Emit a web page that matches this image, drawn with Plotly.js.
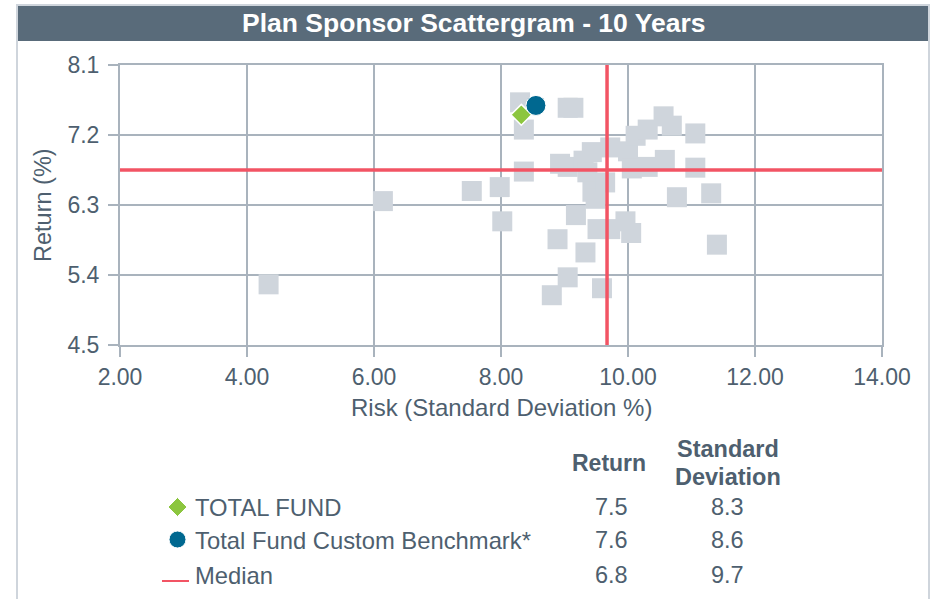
<!DOCTYPE html>
<html>
<head>
<meta charset="utf-8">
<script src="https://cdn.plot.ly/plotly-3.0.1.min.js"></script>
<style>
html,body{margin:0;padding:0;background:#fff;}
#chart{width:934px;height:599px;}
</style>
</head>
<body>
<div id="chart"></div>
<script>
// ---- data ----
const peerRisk = [4.34, 6.14, 7.54, 7.98, 8.02, 8.36, 8.36, 8.30, 9.05, 9.14,
  8.93, 9.05, 9.30, 9.43, 9.72, 9.36, 9.44, 9.49, 9.64, 10.00,
  10.06, 10.12, 10.31, 10.31, 10.58, 10.56, 10.69, 11.06, 11.06, 10.77,
  11.31, 9.18, 9.52, 9.72, 9.96, 10.05, 8.89, 9.33, 9.05, 8.80, 9.59, 11.40];
const peerReturn = [5.28, 6.35, 6.48, 6.53, 6.09, 6.73, 7.27, 7.62, 7.55, 7.55,
  6.83, 6.79, 6.87, 6.98, 7.04, 6.72, 6.47, 6.38, 6.59, 6.99,
  6.77, 7.19, 7.27, 6.79, 6.88, 7.44, 7.32, 7.22, 6.78, 6.40,
  6.45, 6.17, 5.99, 5.99, 6.09, 5.94, 5.86, 5.69, 5.37, 5.14, 5.23, 5.79];
const fundRisk = [8.32];
const fundReturn = [7.46];
const benchRisk = [8.55];
const benchReturn = [7.58];
const medianRisk = 9.67;
const medianReturn = 6.75;

const xTickVals = [2, 4, 6, 8, 10, 12, 14];
const yTickVals = [4.5, 5.4, 6.3, 7.2, 8.1];

const legendNames = ['TOTAL FUND', 'Total Fund Custom Benchmark*', 'Median'];
const legendReturn = ['7.5', '7.6', '6.8'];
const legendStd = ['8.3', '8.6', '9.7'];

const chartTitle = 'Plan Sponsor Scattergram - 10 Years';
const xTitle = 'Risk (Standard Deviation %)';
const yTitle = 'Return (%)';

// ---- layout helpers (pixel -> paper) ----
const W = 934, H = 599, L = 120, R = 52, T = 65, B = 254;
const PW = W - L - R, PH = H - T - B;
const px = x => (x - L) / PW;
const py = y => (H - B - y) / PH;

const FONT = 'Liberation Sans, Arial, Helvetica, sans-serif';
const TXT = '#4e5f6f';
const GRID = '#a9b3bd';
const RED = '#f25464';
const GREEN = '#8cc63f';
const TEAL = '#006890';
const SQUARE = '#cfd5dc';

const traces = [
  {x: peerRisk, y: peerReturn, type: 'scatter', mode: 'markers',
   marker: {symbol: 'square', size: 20, color: SQUARE, line: {width: 0}},
   hoverinfo: 'skip', showlegend: false},
  {x: fundRisk, y: fundReturn, type: 'scatter', mode: 'markers',
   marker: {symbol: 'diamond', size: 16, color: GREEN, line: {width: 1.5, color: '#ffffff'}},
   showlegend: false},
  {x: benchRisk, y: benchReturn, type: 'scatter', mode: 'markers',
   marker: {symbol: 'circle', size: 20, color: TEAL, line: {width: 1, color: '#ffffff'}},
   showlegend: false}
];

const shapes = [
  // outer frame
  {type: 'rect', xref: 'paper', yref: 'paper', x0: px(17), x1: px(929), y0: py(5), y1: py(640),
   line: {color: '#cfd5dc', width: 2}, fillcolor: 'rgba(0,0,0,0)', layer: 'below'},
  // title bar
  {type: 'rect', xref: 'paper', yref: 'paper', x0: px(18), x1: px(928), y0: py(6), y1: py(41),
   line: {width: 0}, fillcolor: '#596b7a', layer: 'below'},
  // median lines
  {type: 'line', xref: 'paper', yref: 'y', x0: 0, x1: 1, y0: medianReturn, y1: medianReturn,
   line: {color: RED, width: 3.5}},
  {type: 'line', xref: 'x', yref: 'paper', x0: medianRisk, x1: medianRisk, y0: 0, y1: 1,
   line: {color: RED, width: 3.5}},
  // legend symbols
  {type: 'path', xref: 'paper', yref: 'paper',
   path: `M ${px(177.5)} ${py(497.5)} L ${px(187)} ${py(507)} L ${px(177.5)} ${py(516.5)} L ${px(168)} ${py(507)} Z`,
   fillcolor: GREEN, line: {color: '#ffffff', width: 1}},
  {type: 'circle', xref: 'paper', yref: 'paper', x0: px(169), x1: px(186), y0: py(531), y1: py(548),
   fillcolor: TEAL, line: {color: '#ffffff', width: 1}},
  {type: 'line', xref: 'paper', yref: 'paper', x0: px(162), x1: px(189), y0: py(581), y1: py(581),
   line: {color: RED, width: 2}}
];

const annotations = [
  {text: '<b>' + chartTitle + '</b>', xref: 'paper', yref: 'paper', x: px(473), y: py(23),
   xanchor: 'center', yanchor: 'middle', showarrow: false, font: {family: FONT, size: 26.5, color: '#ffffff'}},
  {text: yTitle, xref: 'paper', yref: 'paper', x: px(43), y: py(205), textangle: -90,
   xanchor: 'center', yanchor: 'middle', showarrow: false, font: {family: FONT, size: 23.5, color: TXT}},
  {text: xTitle, xref: 'paper', yref: 'paper', x: px(501), y: py(407),
   xanchor: 'center', yanchor: 'middle', showarrow: false, font: {family: FONT, size: 24, color: TXT}},
  {text: '<b>Return</b>', xref: 'paper', yref: 'paper', x: px(609), y: py(463),
   xanchor: 'center', yanchor: 'middle', showarrow: false, font: {family: FONT, size: 23, color: TXT}},
  {text: '<b>Standard</b>', xref: 'paper', yref: 'paper', x: px(728), y: py(449),
   xanchor: 'center', yanchor: 'middle', showarrow: false, font: {family: FONT, size: 23.5, color: TXT}},
  {text: '<b>Deviation</b>', xref: 'paper', yref: 'paper', x: px(728), y: py(477),
   xanchor: 'center', yanchor: 'middle', showarrow: false, font: {family: FONT, size: 23.5, color: TXT}}
];
const rowY = [507, 540, 575];
legendNames.forEach((n, i) => {
  annotations.push({text: n, xref: 'paper', yref: 'paper', x: px(193), y: py(rowY[i]),
    xanchor: 'left', yanchor: 'middle', showarrow: false, font: {family: FONT, size: 23.8, color: TXT}});
  annotations.push({text: legendReturn[i], xref: 'paper', yref: 'paper', x: px(611), y: py(rowY[i]),
    xanchor: 'center', yanchor: 'middle', showarrow: false, font: {family: FONT, size: 23.5, color: TXT}});
  annotations.push({text: legendStd[i], xref: 'paper', yref: 'paper', x: px(727), y: py(rowY[i]),
    xanchor: 'center', yanchor: 'middle', showarrow: false, font: {family: FONT, size: 23.5, color: TXT}});
});

const layout = {
  width: W, height: H,
  margin: {l: L, r: R, t: T, b: B, pad: 0},
  paper_bgcolor: '#ffffff', plot_bgcolor: '#ffffff',
  showlegend: false,
  xaxis: {range: [2, 14], tickvals: xTickVals, tickformat: '.2f',
    showgrid: true, gridcolor: GRID, gridwidth: 1.5,
    showline: true, linecolor: GRID, linewidth: 2, mirror: true,
    ticks: 'outside', ticklen: 10, tickcolor: GRID, tickwidth: 1.5,
    tickfont: {family: FONT, size: 23, color: TXT}, zeroline: false, fixedrange: true},
  yaxis: {range: [4.5, 8.1], tickvals: yTickVals, tickformat: '.1f',
    showgrid: true, gridcolor: GRID, gridwidth: 1.5,
    showline: true, linecolor: GRID, linewidth: 2, mirror: true,
    ticks: 'outside', ticklen: 10, tickcolor: GRID, tickwidth: 1.5,
    ticklabelstandoff: 4,
    tickfont: {family: FONT, size: 23, color: TXT}, zeroline: false, fixedrange: true},
  shapes: shapes,
  annotations: annotations
};

Plotly.newPlot('chart', traces, layout, {displayModeBar: false, staticPlot: true});
</script>
</body>
</html>
